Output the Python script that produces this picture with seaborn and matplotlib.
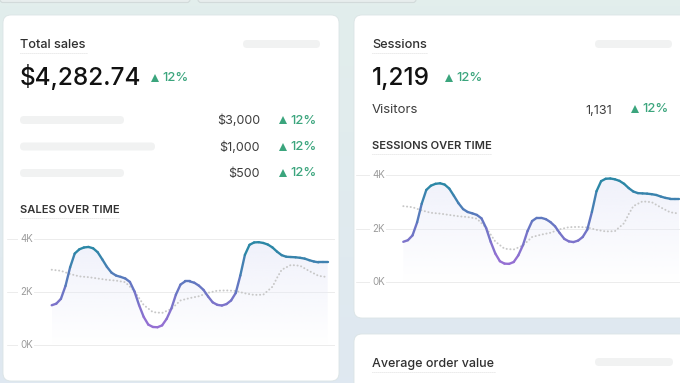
import numpy as np
import seaborn as sns
import matplotlib.pyplot as plt
from matplotlib.patches import FancyBboxPatch
from matplotlib.collections import LineCollection
from matplotlib.colors import LinearSegmentedColormap, Normalize, to_rgb
from matplotlib.transforms import blended_transform_factory

# current period (solid line), day of month vs value
days_current = [0, 0.5, 1, 1.5, 2, 2.5, 3, 3.5, 4, 4.5, 5, 5.5, 6, 6.5, 7, 7.5, 8, 8.5,
                9, 9.5, 10, 10.5, 11, 11.5, 12, 12.5, 13, 13.5, 14, 14.5, 15, 15.5, 16,
                16.5, 17, 17.5, 18, 18.5, 19, 19.5, 20, 20.5, 21, 21.5, 22, 22.5, 23,
                23.5, 24, 24.5, 25, 25.5, 26, 26.5, 27, 27.5, 28, 28.5, 29, 29.5, 30]
values_current = [1500, 1560, 1740, 2230, 2930, 3450, 3610, 3680, 3700, 3650, 3500, 3230,
                  2950, 2730, 2620, 2570, 2510, 2380, 2020, 1500, 1060, 770, 680, 670,
                  740, 990, 1370, 1900, 2280, 2400, 2400, 2350, 2240, 2080, 1830, 1610,
                  1515, 1490, 1545, 1680, 1960, 2620, 3400, 3780, 3870, 3880, 3850, 3790,
                  3680, 3520, 3390, 3330, 3320, 3310, 3290, 3260, 3200, 3150, 3120, 3120,
                  3120]

# previous period (dotted line)
days_previous = [0, 1, 2, 3, 4, 5, 6, 7, 8, 9, 10, 11, 12, 13, 14, 15, 16, 17, 18, 19,
                 20, 21, 22, 23, 24, 24.5, 25, 26, 27, 28, 29, 30]
values_previous = [2840, 2800, 2680, 2590, 2560, 2510, 2460, 2430, 2370, 2030, 1510, 1240,
                   1210, 1360, 1680, 1770, 1840, 1970, 2050, 2060, 2040, 1950, 1890, 1900,
                   2200, 2540, 2840, 3020, 2990, 2790, 2610, 2560]

y_ticks = [0, 2000, 4000]
tick_labels = ["0K", "2K", "4K"]

sales_rows = ["$3,000", "$1,000", "$500"]
row_change = ["12%", "12%", "12%"]

sns.set_theme(style="white")
plt.rcParams["font.family"] = ["Inter", "DejaVu Sans"]

W, H = 680, 383
fig = plt.figure(figsize=(6.8, 3.83), dpi=100)
bg = fig.add_axes([0, 0, 1, 1])

# page background
grad = np.zeros((64, 2, 3))
top, bottom = np.array(to_rgb("#e2eeec")), np.array(to_rgb("#dfe8f1"))
for i in range(64):
    grad[i, :, :] = top + (bottom - top) * i / 63
bg.imshow(grad, extent=[0, W, H, 0], aspect="auto", zorder=0)
bg.set_xlim(0, W)
bg.set_ylim(H, 0)
bg.axis("off")

GREEN = "#3ba57d"
DARK = "#2b2b2b"
MID = "#3d3d3d"


def card(x, y, w, h):
    bg.add_patch(FancyBboxPatch((x, y), w, h, boxstyle="round,pad=0,rounding_size=8",
                                fc="white", ec="#dbe4e5", lw=0.6, zorder=1))


def bar(x, y, w, h=8):
    bg.add_patch(FancyBboxPatch((x, y), w, h, boxstyle="round,pad=0,rounding_size=4",
                                fc="#f1f2f2", ec="none", zorder=2))


def txt(x, y, s, size, color=DARK, weight="normal", ha="left"):
    bg.text(x, y, s, fontsize=size, color=color, fontweight=weight, ha=ha,
            va="baseline", zorder=5)


def underline(x0, x1, y):
    bg.plot([x0, x1], [y, y], color="#d2d2d2", lw=0.6, ls=(0, (1, 1.4)), zorder=4)


def change(x, y, s, size=9.3):
    bg.plot(x + 3.5, y - 3.5, marker="^", ms=5.2, color=GREEN, mew=0, zorder=5)
    txt(x + 11, y, s, size, GREEN, "medium")


# slivers of cards above
bg.add_patch(FancyBboxPatch((0, -6), 190, 8.5, boxstyle="round,pad=0,rounding_size=3",
                            fc="#e7eded", ec="#d2dada", lw=0.8, zorder=1))
bg.add_patch(FancyBboxPatch((198, -6), 218, 8.5, boxstyle="round,pad=0,rounding_size=3",
                            fc="#e7eded", ec="#d2dada", lw=0.8, zorder=1))

card(3, 15, 336, 366)
card(354, 15, 340, 303)
card(354, 334, 340, 60)

# total sales card
txt(20, 47.5, "Total sales", 9.2, "#303030", "medium")
underline(20, 88, 52.5)
bar(243, 40, 77)
txt(20, 85, "$4,282.74", 17.5, "#111111", "medium")
change(151, 81, "12%")
for i, (val, ch) in enumerate(zip(sales_rows, row_change)):
    base = 124.5 + i * 26.5
    bar(20, base - 8.5, [104, 135, 104][i])
    txt(260, base, val, 9, MID, ha="right")
    change(279, base - 1, ch)
txt(20, 212.7, "SALES OVER TIME", 8.0, "#333333", "semibold")
underline(20, 119, 217.5)

# sessions card
txt(372, 48, "Sessions", 9.2, "#303030", "medium")
underline(372, 428, 52.5)
bar(595, 40, 77)
txt(372, 85, "1,219", 17.5, "#111111", "medium")
change(445, 81, "12%")
txt(372, 113.3, "Visitors", 9.5, MID)
txt(612, 113.8, "1,131", 9, MID, ha="right")
change(631, 112, "12%")
txt(372, 149, "SESSIONS OVER TIME", 8.0, "#333333", "semibold")
underline(372, 492, 153.5)

# average order value card
txt(372, 366.5, "Average order value", 9.0, "#303030", "medium")
underline(372, 495, 371.5)
bar(595, 358, 78)

cmap = LinearSegmentedColormap.from_list("line", ["#9570d3", "#6676c3", "#2b87a6"])


def chart(xs, xe, y0, ppk, xl, gx0, gx1):
    top_px = y0 - 4.6 * ppk
    bot_px = y0 + 1.2 * ppk
    ax = fig.add_axes([gx0 / W, 1 - bot_px / H, (gx1 - gx0) / W, (bot_px - top_px) / H])
    ppd = (xe - xs) / 30.0

    poly = ax.fill_between(days_current, values_current, 0, facecolor="none", edgecolor="none")
    fill = np.zeros((128, 1, 4))
    fill[..., :3] = to_rgb("#e9ebf9")
    fill[:, 0, 3] = np.linspace(0.7, 0.0, 128)
    im = ax.imshow(fill, extent=[0, 30, 0, 4000], aspect="auto", origin="upper", zorder=1)
    im.set_clip_path(poly.get_paths()[0], transform=ax.transData)

    for t in y_ticks:
        ax.axhline(t, color="#ececec", lw=0.7, zorder=0)

    sns.lineplot(x=days_previous, y=values_previous, ax=ax, color="#c8c8c8", lw=1.4,
                 ls=(0, (0.1, 1.8)), dash_capstyle="round", zorder=2)

    pts = np.column_stack([days_current, values_current])
    segs = np.stack([pts[:-1], pts[1:]], axis=1)
    mids = (pts[:-1, 1] + pts[1:, 1]) / 2
    lc = LineCollection(segs, cmap=cmap, norm=Normalize(800, 3600), lw=1.7,
                        capstyle="round", joinstyle="round", zorder=3)
    lc.set_array(mids)
    ax.add_collection(lc)

    tr = blended_transform_factory(ax.transAxes, ax.transData)
    for t, lab in zip(y_ticks, tick_labels):
        ax.text((xl - gx0) / (gx1 - gx0), t, lab, transform=tr, fontsize=7, color="#9b9b9b",
                ha="left", va="center", zorder=4,
                bbox=dict(fc="white", ec="none", pad=1.2))

    ax.set_xlim((gx0 - xs) / ppd, (gx1 - xs) / ppd)
    ax.set_ylim(-1.2 * 1000, 4.6 * 1000)
    ax.set_aspect("auto")
    ax.axis("off")
    ax.patch.set_alpha(0)
    return ax


chart(51.7, 327.7, 345, 26.5, 20, 7, 335)
chart(403.3, 679.3, 281.7, 26.6, 372, 356, 700)

fig.savefig("out.png", dpi=100)
